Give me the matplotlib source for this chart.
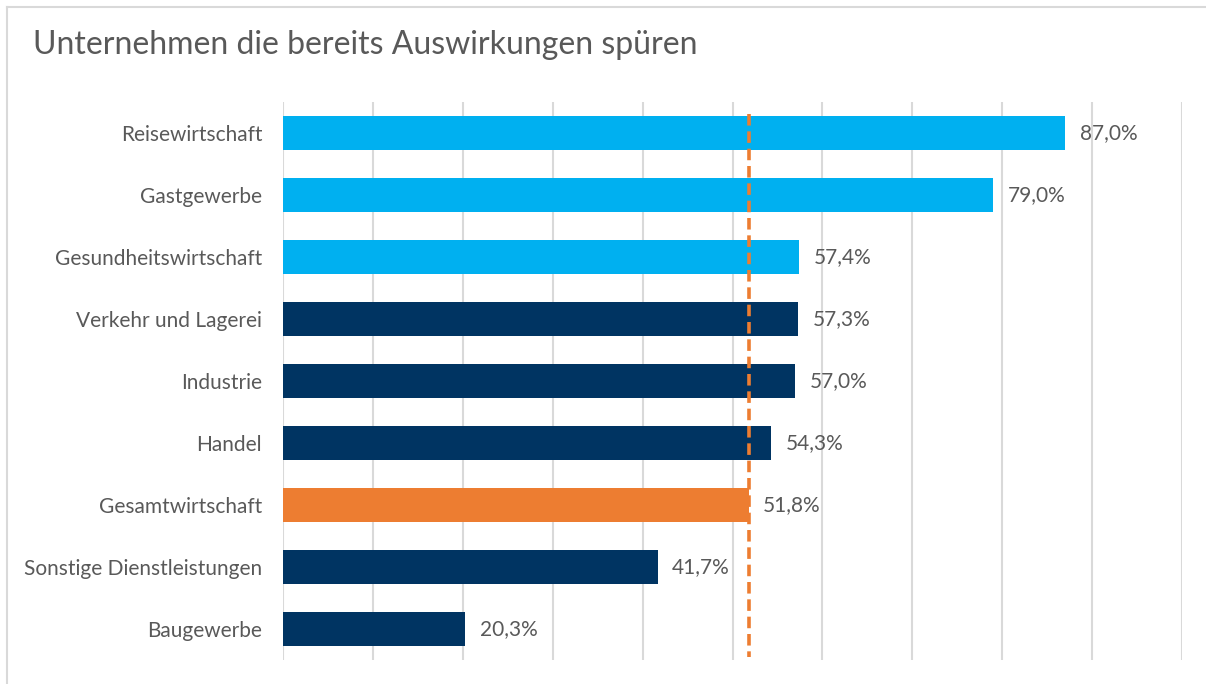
import matplotlib.pyplot as plt
from matplotlib.lines import Line2D

categories = ['Reisewirtschaft', 'Gastgewerbe', 'Gesundheitswirtschaft',
              'Verkehr und Lagerei', 'Industrie', 'Handel', 'Gesamtwirtschaft',
              'Sonstige Dienstleistungen', 'Baugewerbe']
values = [87.0, 79.0, 57.4, 57.3, 57.0, 54.3, 51.8, 41.7, 20.3]
groups = ['hit', 'hit', 'hit', 'other', 'other', 'other', 'total', 'other', 'other']
reference = 51.8

colors = {'hit': '#00B0F0', 'other': '#003462', 'total': '#ED7D31'}
text_color = '#595959'

plt.rcParams['font.family'] = ['Lato', 'DejaVu Sans']

fig = plt.figure(figsize=(12.06, 6.84), dpi=100)
ax = fig.add_axes([283 / 1206, 1 - 660 / 684, (1182 - 283) / 1206, (660 - 102) / 684])

y = list(range(len(categories)))
ax.barh(y, values, height=0.56, color=[colors[g] for g in groups], zorder=2)

for yi, v in zip(y, values):
    ax.text(v + 1.6, yi, f'{v:.1f}%'.replace('.', ','), va='center', ha='left',
            fontsize=15, color=text_color)

# reference line for the total economy
ax.plot([reference, reference], [-0.3, 8.45], color='#ED7D31', lw=2.6,
        dashes=(3.2, 1.6), zorder=3)

ax.set_xlim(0, 100)
ax.set_ylim(8.5, -0.5)
ax.set_xticks(range(0, 101, 10))
ax.set_xticklabels([])
ax.set_yticks(y)
ax.set_yticklabels(categories, fontsize=15, color=text_color)
ax.tick_params(axis='both', length=0)
ax.tick_params(axis='y', pad=15)
ax.grid(axis='x', color='#D9D9D9', lw=1.5, zorder=0)
for s in ax.spines.values():
    s.set_visible(False)

fig.text(33 / 1206, 1 - 45 / 684, 'Unternehmen die bereits Auswirkungen spüren',
         fontsize=23, color=text_color, va='center', ha='left')

# thin frame around the chart area
fig.add_artist(Line2D([7 / 1206, 1], [1 - 7 / 684, 1 - 7 / 684], color='#D9D9D9', lw=1.5))
fig.add_artist(Line2D([7 / 1206, 7 / 1206], [0, 1 - 7 / 684], color='#D9D9D9', lw=1.5))

fig.savefig('out.png', dpi=100)
